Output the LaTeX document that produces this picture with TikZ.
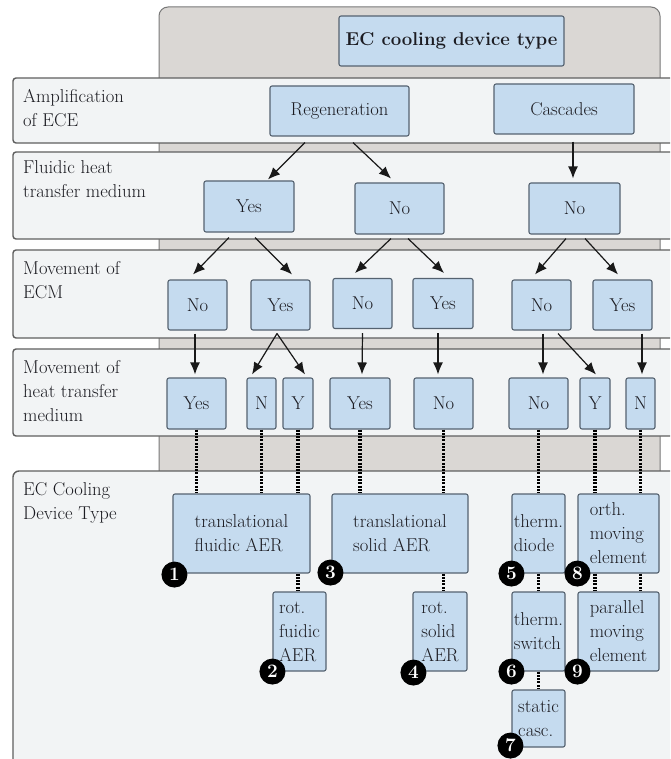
\documentclass[tikz,border=0pt]{standalone}
\usetikzlibrary{arrows.meta,calc}
\definecolor{bggray}{RGB}{218,215,212}
\definecolor{bgline}{RGB}{120,120,120}
\definecolor{bandfill}{RGB}{242,244,245}
\definecolor{bandline}{RGB}{95,95,95}
\definecolor{boxfill}{RGB}{197,219,239}
\definecolor{boxline}{RGB}{85,98,112}
\definecolor{txt}{RGB}{28,28,34}
\begin{document}
\begin{tikzpicture}[x=1pt,y=-1pt,
  font=\fontsize{18.6}{24}\selectfont,
  box/.style={draw=boxline, fill=boxfill, line width=1.1pt, rounded corners=2pt, inner sep=1pt, text=txt, align=left},
  band/.style={draw=bandline, fill=bandfill, line width=1.4pt, rounded corners=3pt},
  lbl/.style={anchor=north west, inner sep=0pt, align=left, text=txt},
  arr/.style={-{Latex[length=12pt,width=10pt]}, line width=1.2pt, black!90},
  dotline/.style={line width=3.3pt, dash pattern=on 2pt off 1.3pt, black},
  num/.style={circle, fill=black, text=white, inner sep=0pt, minimum size=26pt, font=\fontsize{19}{20}\selectfont\bfseries}
]
\useasboundingbox (0,0) rectangle (670,759);
\clip (0,0) rectangle (670,759);
\fill[white] (0,0) rectangle (670,759);

% gray background
\draw[fill=bggray, draw=bgline, line width=1pt, rounded corners=9pt] (159,7) rectangle (660,490);

% bands
\draw[band] (13,78) rectangle (690,143);
\draw[band] (13,152) rectangle (690,239);
\draw[band] (13,250) rectangle (690,338);
\draw[band] (13,349) rectangle (690,436);
\draw[band, rounded corners=6pt] (13,471) rectangle (690,800);

% band labels
\node[lbl] (l1) at (23,89) {Amplification\\of ECE};
\node[lbl] (l2) at (23,160) {Fluidic heat\\transfer medium};
\node[lbl] (l3) at (23,261) {Movement of\\ECM};
\node[lbl] (l4) at (23,360) {Movement of\\heat transfer\\medium};
\node[lbl] (l5) at (23,482) {EC Cooling\\Device Type};

% title
\node[box, minimum width=225pt, minimum height=50pt, font=\fontsize{18.6}{24}\selectfont\bfseries] (title) at (451.5,41) {EC cooling device type};

% amplification
\node[box, minimum width=139pt, minimum height=50pt] (regen) at (339.5,111) {Regeneration};
\node[box, minimum width=140pt, minimum height=50pt] (casc) at (564,109) {Cascades};

% fluidic heat transfer medium
\node[box, minimum width=90pt, minimum height=51pt] (yesF) at (249,206.5) {Yes};
\node[box, minimum width=89pt, minimum height=51pt] (noF1) at (399.5,208.5) {No};
\node[box, minimum width=91pt, minimum height=51pt] (noF2) at (574.5,208.5) {No};

% movement of ECM
\node[box, minimum width=59pt, minimum height=50pt] (e1) at (197.5,305) {No};
\node[box, minimum width=59pt, minimum height=50pt] (e2) at (280.5,305) {Yes};
\node[box, minimum width=59pt, minimum height=50pt] (e3) at (362.5,303.5) {No};
\node[box, minimum width=60pt, minimum height=50pt] (e4) at (443,303.5) {Yes};
\node[box, minimum width=59pt, minimum height=50pt] (e5) at (541.5,305) {No};
\node[box, minimum width=59pt, minimum height=50pt] (e6) at (622.5,305) {Yes};

% movement of heat transfer medium
\node[box, minimum width=59pt, minimum height=51pt] (h1) at (196.5,403.5) {Yes};
\node[box, minimum width=29pt, minimum height=51pt] (h2) at (261.5,403.5) {N};
\node[box, minimum width=30pt, minimum height=51pt] (h3) at (298,403.5) {Y};
\node[box, minimum width=60pt, minimum height=51pt] (h4) at (360,403.5) {Yes};
\node[box, minimum width=59pt, minimum height=51pt] (h5) at (443.5,403.5) {No};
\node[box, minimum width=59pt, minimum height=51pt] (h6) at (538.5,403.5) {No};
\node[box, minimum width=30pt, minimum height=51pt] (h7) at (595,403.5) {Y};
\node[box, minimum width=29pt, minimum height=51pt] (h8) at (640.5,403.5) {N};

% device types
\node[box, minimum width=137pt, minimum height=79pt] (d1) at (241.5,533.5) {translational\\fluidic AER};
\node[box, minimum width=136pt, minimum height=79pt] (d3) at (400,533.5) {translational\\solid AER};
\node[box, minimum width=53pt, minimum height=79pt] (d5) at (538.5,533.5) {therm.\\diode};
\node[box, minimum width=81pt, minimum height=79pt] (d8) at (618.5,533.5) {orth.\\moving\\element};
\node[box, minimum width=53pt, minimum height=79pt] (d2) at (299.5,631.5) {rot.\\fuidic\\AER};
\node[box, minimum width=54pt, minimum height=79pt] (d4) at (440,631.5) {rot.\\solid\\AER};
\node[box, minimum width=53pt, minimum height=79pt] (d6) at (538.5,631.5) {therm.\\switch};
\node[box, minimum width=81pt, minimum height=79pt] (d9) at (618.5,631.5) {parallel\\moving\\element};
\node[box, minimum width=53pt, minimum height=57pt] (d7) at (538.5,718.5) {static\\casc.};

% arrows
\draw[arr] ($(regen.south)+(-34.5,6)$) -- ($(yesF.north)+(19,-1)$);
\draw[arr] ($(regen.south)+(13.5,6)$) -- ($(noF1.north)+(-8.5,-4)$);
\draw[arr] ($(casc.south)+(9,7)$) -- ($(noF2.north)+(-1.5,-4)$);
\draw[arr] ($(yesF.south)+(-20,5)$) -- ($(e1.north)+(-4.5,-5)$);
\draw[arr] ($(yesF.south)+(6,5)$) -- ($(e2.north)+(11.5,-5)$);
\draw[arr] ($(noF1.south)+(-8.5,4)$) -- ($(e3.north)+(-7.5,-5)$);
\draw[arr] ($(noF1.south)+(8.5,4)$) -- ($(e4.north)+(1,-5)$);
\draw[arr] ($(noF2.south)+(-8.5,4)$) -- ($(e5.north)+(-6.5,-5)$);
\draw[arr] ($(noF2.south)+(10.5,4)$) -- ($(e6.north)+(-4.5,-5)$);
\draw[arr] ($(e1.south)+(-2.5,3)$) -- ($(h1.north)+(-1.5,-3)$);
\draw[arr] ($(e2.south)+(-3.5,3)$) -- ($(h2.north)+(-9.5,-3)$);
\draw[arr] ($(e2.south)+(-3.5,3)$) -- ($(h3.north)+(7,-3)$);
\draw[arr] ($(e3.south)+(0,4)$) -- ($(h4.north)+(2,-3)$);
\draw[arr] ($(e4.south)+(-5,4)$) -- ($(h5.north)+(-5.5,-3)$);
\draw[arr] ($(e5.south)+(1.5,3)$) -- ($(h6.north)+(4.5,-3)$);
\draw[arr] ($(e5.south)+(16.5,3)$) -- ($(h7.north)+(1,-3)$);
\draw[arr] ($(e6.south)+(19.5,3)$) -- ($(h8.north)+(1.5,-3)$);

% dotted links
\draw[dotline] (h1.south) -- (h1.south |- d1.north);
\draw[dotline] (h2.south) -- (h2.south |- d1.north);
\draw[dotline] (h3.south) -- (h3.south |- d1.north);
\draw[dotline] (h4.south) -- (h4.south |- d3.north);
\draw[dotline] (h5.south) -- (h5.south |- d3.north);
\draw[dotline] (h6.south) -- (h6.south |- d5.north);
\draw[dotline] (h7.south) -- (h7.south |- d8.north);
\draw[dotline] (h8.south) -- (h8.south |- d8.north);
\draw[dotline] (h3.south |- d1.south) -- (h3.south |- d2.north);
\draw[dotline] (h5.south |- d3.south) -- (h5.south |- d4.north);
\draw[dotline] (h6.south |- d5.south) -- (h6.south |- d6.north);
\draw[dotline] (h6.south |- d6.south) -- (h6.south |- d7.north);
\draw[dotline] (h7.south |- d8.south) -- (h7.south |- d9.north);
\draw[dotline] (h8.south |- d8.south) -- (h8.south |- d9.north);

% numbers
\node[num] (n1) at ($(d1.south west)+(2,1)$) {1};
\node[num] (n2) at (d2.south west) {2};
\node[num] (n3) at ($(d3.south west)+(-1,-1)$) {3};
\node[num] (n4) at ($(d4.south west)+(1,1)$) {4};
\node[num] (n5) at (d5.south west) {5};
\node[num] (n6) at (d6.south west) {6};
\node[num] (n7) at ($(d7.south west)+(-1,-2)$) {7};
\node[num] (n8) at (d8.south west) {8};
\node[num] (n9) at (d9.south west) {9};
\end{tikzpicture}
\end{document}
